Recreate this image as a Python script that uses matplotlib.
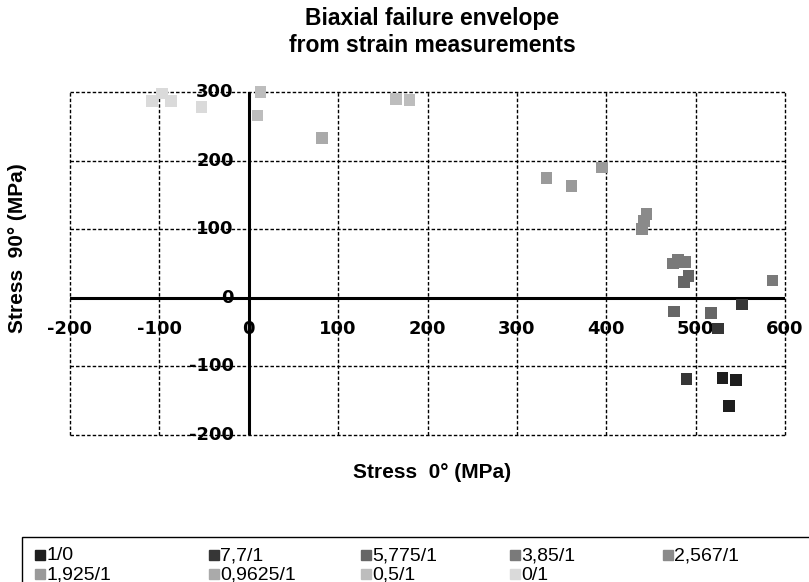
import matplotlib
matplotlib.use("Agg")
import matplotlib.pyplot as plt
from matplotlib.lines import Line2D
from matplotlib.patches import Rectangle

# ---- data (MPa) ----
series_labels = ["1/0", "7,7/1", "5,775/1", "3,85/1", "2,567/1",
                 "1,925/1", "0,9625/1", "0,5/1", "0/1"]
series_colors = ["#1e1e1e", "#363636", "#666666", "#7a7a7a", "#8a8a8a",
                 "#9a9a9a", "#aaaaaa", "#bdbdbd", "#dadada"]

s10_x = [537, 530, 545]
s10_y = [-158, -117, -120]
s77_x = [490, 525, 552]
s77_y = [-118, -45, -10]
s5775_x = [476, 517, 487, 492]
s5775_y = [-20, -22, 23, 32]
s385_x = [475, 480, 488, 586]
s385_y = [50, 55, 52, 25]
s2567_x = [440, 442, 445]
s2567_y = [100, 112, 122]
s1925_x = [333, 361, 395]
s1925_y = [175, 163, 190]
s09625_x = [82]
s09625_y = [233]
s05_x = [10, 13, 165, 180]
s05_y = [266, 300, 290, 288]
s0_x = [-108, -97, -87, -53]
s0_y = [287, 298, 287, 278]

series_x = [s10_x, s77_x, s5775_x, s385_x, s2567_x, s1925_x, s09625_x, s05_x, s0_x]
series_y = [s10_y, s77_y, s5775_y, s385_y, s2567_y, s1925_y, s09625_y, s05_y, s0_y]

x_ticks = [-200, -100, 0, 100, 200, 300, 400, 500, 600]
y_ticks = [-200, -100, 0, 100, 200, 300]

W, H = 809, 582
fig = plt.figure(figsize=(W / 100, H / 100), dpi=100)
ax = fig.add_axes([70 / W, 1 - 435 / H, 715 / W, 343 / H])

ax.set_xlim(-200, 600)
ax.set_ylim(-200, 300)

grid_ls = (0, (2.5, 1.5))
for t in x_ticks:
    ax.axvline(t, color="black", lw=1.0, ls=grid_ls, zorder=1, clip_on=False)
for t in y_ticks:
    ax.axhline(t, color="black", lw=1.0, ls=grid_ls, zorder=1, clip_on=False)

for sp in ax.spines.values():
    sp.set_visible(False)

ax.axhline(0, color="black", lw=2.2, zorder=2)
ax.axvline(0, color="black", lw=2.2, zorder=2)

ax.set_xticks(x_ticks)
ax.set_yticks(y_ticks)
ax.set_xticklabels([])
ax.set_yticklabels([])
ax.tick_params(length=0)

tick_font = dict(family=["DejaVu Sans"], fontweight="bold", fontsize=13)
for t in x_ticks:
    ax.annotate(str(t), xy=(t, 0), xycoords="data", xytext=(0, -31),
                textcoords="offset pixels", ha="center", va="center", **tick_font)
for t in y_ticks:
    ax.annotate(str(t), xy=(0, t), xycoords="data", xytext=(-15, 0),
                textcoords="offset pixels", ha="right", va="center", **tick_font)

for xs, ys, c in zip(series_x, series_y, series_colors):
    ax.scatter(xs, ys, marker="s", s=70, color=c, edgecolors="none", zorder=3, clip_on=False)

lab_font = ["Liberation Sans", "DejaVu Sans"]
fig.text(432 / W, 1 - 18 / H, "Biaxial failure envelope",
         ha="center", va="center", fontsize=16.5, fontweight="bold", family=lab_font)
fig.text(432 / W, 1 - 45 / H, "from strain measurements",
         ha="center", va="center", fontsize=16.5, fontweight="bold", family=lab_font)
fig.text(432 / W, 1 - 472 / H, "Stress  0° (MPa)", ha="center", va="center",
         fontsize=15, fontweight="bold", family=lab_font)
fig.text(18 / W, 1 - 248 / H, "Stress  90° (MPa)", ha="center", va="center",
         rotation=90, fontsize=15, fontweight="bold", family=lab_font)

# legend drawn as a boxed key, row-wise
fig.add_artist(Rectangle((22 / W, 1 - 592 / H), 800 / W, 55 / H, transform=fig.transFigure,
                         facecolor="white", edgecolor="black", lw=1.0, clip_on=False))
col_x = [40, 214, 366, 515, 668]
row_y = [555, 574]
leg_font = ["Liberation Sans Narrow", "Liberation Sans"]
for i, (lab, c) in enumerate(zip(series_labels, series_colors)):
    r, k = divmod(i, 5)
    px, py = col_x[k], row_y[r]
    fig.add_artist(Line2D([px / W], [1 - py / H], transform=fig.transFigure, marker="s",
                          ls="none", color=c, markersize=6.5))
    fig.text((px + 6) / W, 1 - (py + 5.5) / H, lab, ha="left", va="baseline", fontsize=14,
             family=leg_font)

fig.savefig("out.png", dpi=100)
